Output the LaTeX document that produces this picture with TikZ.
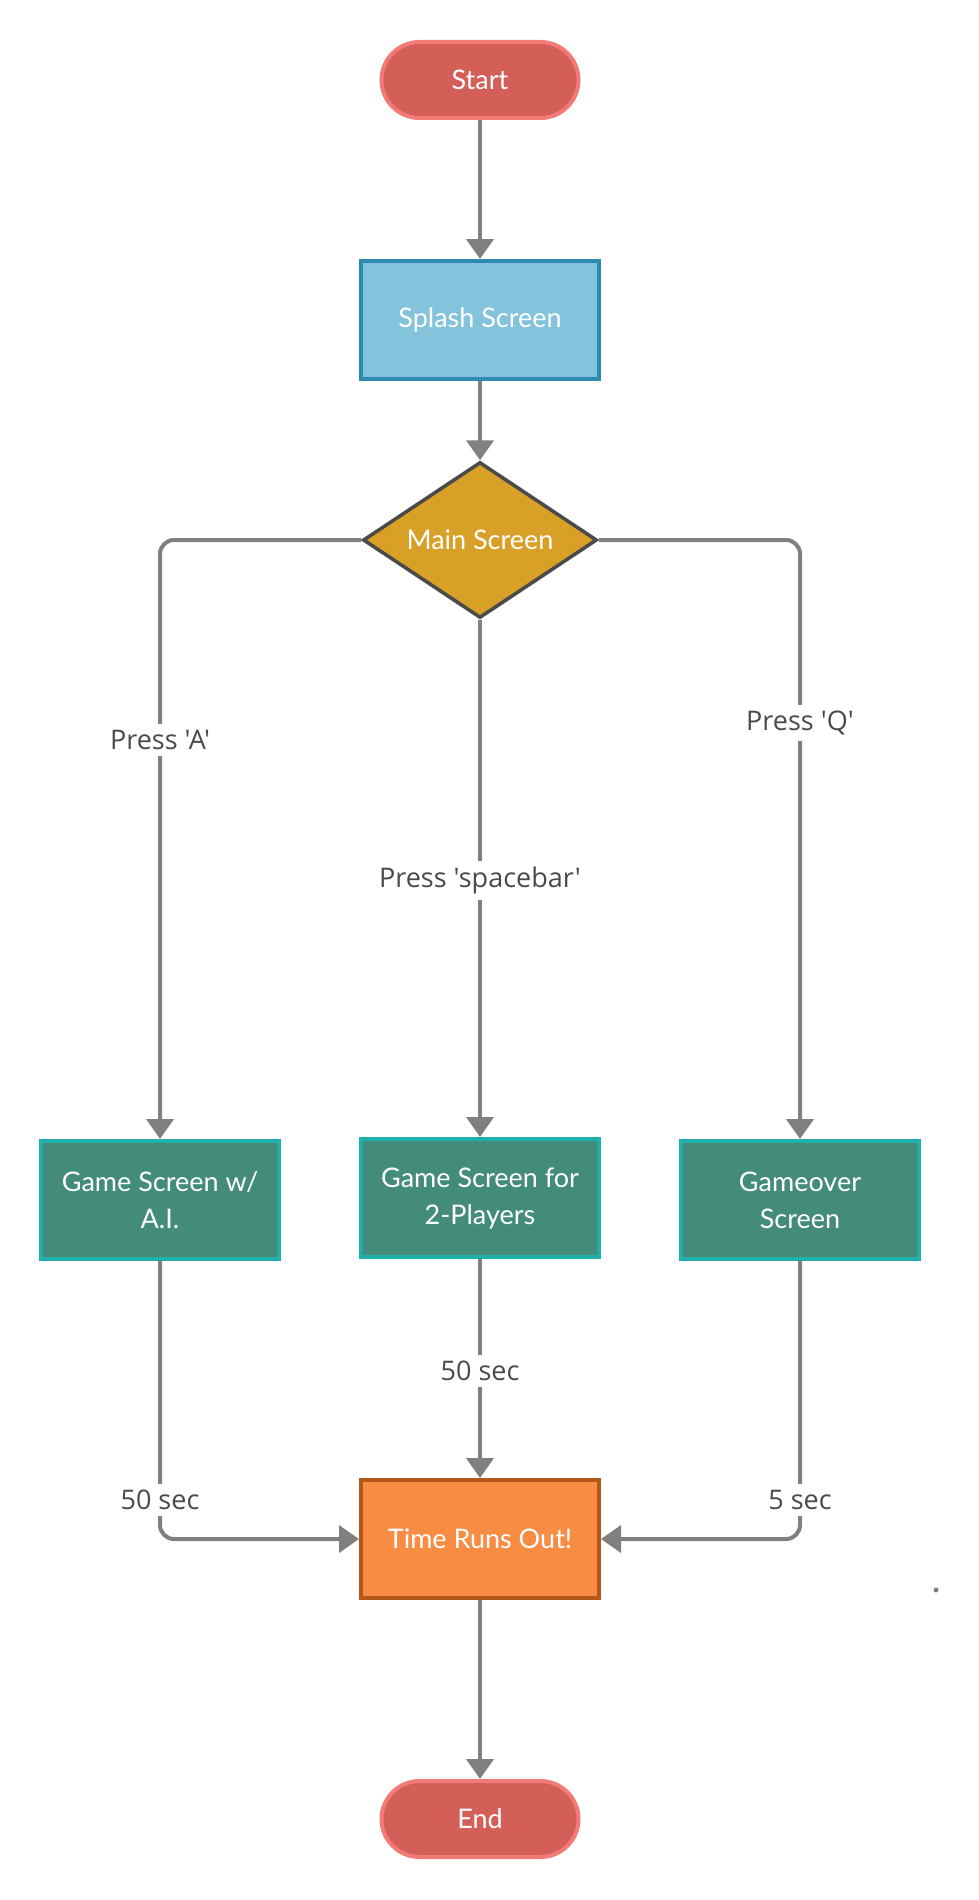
\documentclass[tikz,border=0pt]{standalone}
\usepackage{fontspec}
\setmainfont{Lato}
\newfontfamily\labelfont{Open Sans}
\usetikzlibrary{arrows.meta,shapes.geometric,shapes.misc}
\definecolor{lineg}{HTML}{808080}
\definecolor{termfill}{HTML}{D35F58}
\definecolor{termdraw}{HTML}{F47A78}
\definecolor{splfill}{HTML}{83C3DC}
\definecolor{spldraw}{HTML}{2E8AB0}
\definecolor{dfill}{HTML}{D9A027}
\definecolor{ddraw}{HTML}{4A4A4A}
\definecolor{gfill}{HTML}{448C7A}
\definecolor{gdraw}{HTML}{1FB0AC}
\definecolor{ofill}{HTML}{F98C43}
\definecolor{odraw}{HTML}{B5561A}
\definecolor{labtext}{HTML}{4A4A4A}
\tikzset{
  base/.style={line width=4pt, text=white, align=center, inner sep=0pt,
    font=\fontsize{27}{37}\selectfont},
  term/.style={base, rounded rectangle, fill=termfill, draw=termdraw,
    minimum width=197pt, minimum height=76pt},
  proc/.style={base, rectangle, minimum width=238pt, minimum height=118pt},
  decis/.style={base, diamond, fill=dfill, draw=ddraw, aspect=1.5,
    minimum width=234pt, minimum height=156pt, line width=3.5pt},
  conn/.style={draw=lineg, line width=4pt, rounded corners=14pt,
    -{Triangle[width=27pt,length=20pt]}},
  lab/.style={fill=white, text=labtext, inner sep=6pt,
    font=\labelfont\fontsize{27}{30}\selectfont}
}
\begin{document}
\begin{tikzpicture}[x=1pt,y=-1pt]
\useasboundingbox (0,0) rectangle (978,1900);
\node[term] (start) at (480,80) {Start};
\node[proc, fill=splfill, draw=spldraw] (splash) at (480,320) {Splash Screen};
\node[decis] (main) at (480,540) {Main Screen};
\node[proc, fill=gfill, draw=gdraw] (ai) at (160,1200) {Game Screen w/\\A.I.};
\node[proc, fill=gfill, draw=gdraw] (two) at (480,1198) {Game Screen for\\2-Players};
\node[proc, fill=gfill, draw=gdraw] (over) at (800,1200) {Gameover\\Screen};
\node[proc, fill=ofill, draw=odraw] (time) at (480,1539) {Time Runs Out!};
\node[term] (end) at (480,1819) {End};

\draw[conn] (start) -- (splash);
\draw[conn] (splash) -- (main);
\draw[conn] (main.west) -| (ai.north);
\draw[conn] (main.south) -- (two.north);
\draw[conn] (main.east) -| (over.north);
\draw[conn] (two.south) -- (time.north);
\draw[conn] (ai.south) |- (time.west);
\draw[conn] (over.south) |- (time.east);
\draw[conn] (time) -- (end);

\node[lab] (la) at (160,740) {Press 'A'};
\node[lab] (lq) at (800,723) {Press 'Q'};
\node[lab] (ls) at (480,880) {Press 'spacebar'};
\node[lab] (l50m) at (480,1371) {50 sec};
\node[lab] (l50l) at (160,1500) {50 sec};
\node[lab] (l5r) at (800,1500) {5 sec};

\fill[lineg] (936,1590) circle (2.5pt);
\end{tikzpicture}
\end{document}
